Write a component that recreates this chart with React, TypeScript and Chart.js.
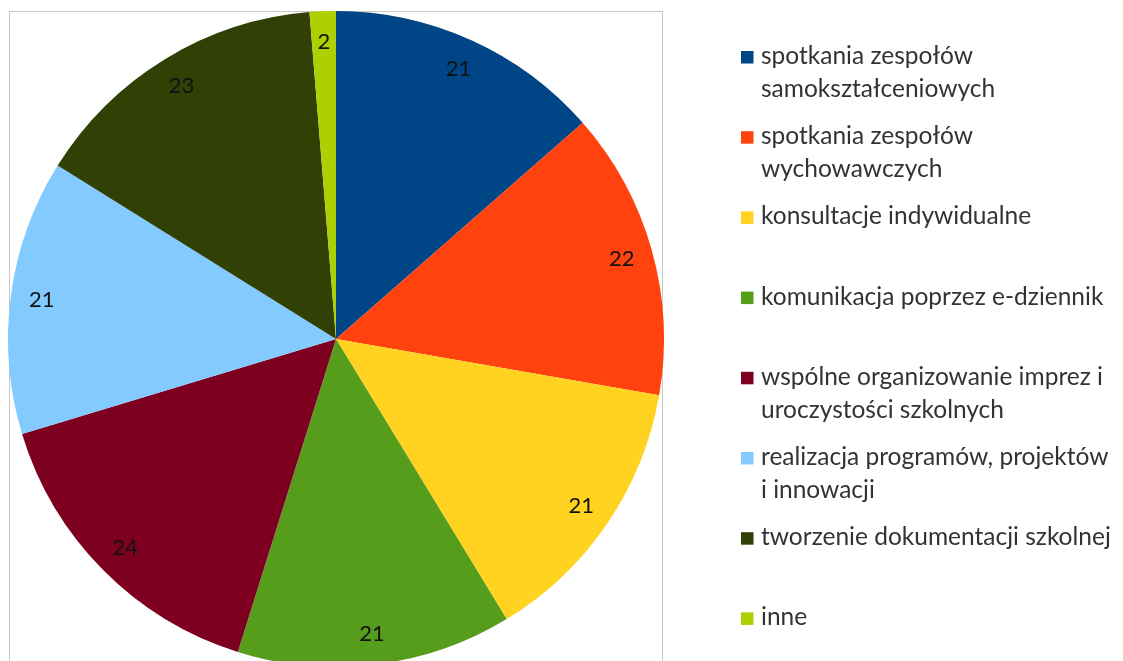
import React, { useEffect, useRef } from "react";
import { Chart, registerables } from "chart.js";

Chart.register(...registerables);

const categories: string[][] = [
  ["spotkania zespołów", "samokształceniowych"],
  ["spotkania zespołów", "wychowawczych"],
  ["konsultacje indywidualne"],
  ["komunikacja poprzez e-dziennik"],
  ["wspólne organizowanie imprez i", "uroczystości szkolnych"],
  ["realizacja programów, projektów", "i innowacji"],
  ["tworzenie dokumentacji szkolnej"],
  ["inne"],
];
const values: number[] = [21, 22, 21, 21, 24, 21, 23, 2];
const colors: string[] = [
  "#004586",
  "#FF420E",
  "#FFD320",
  "#579D1C",
  "#7E0021",
  "#83CAFF",
  "#314004",
  "#AECF00",
];

const FONT = "Lato, 'Open Sans', sans-serif";

const framePlugin = {
  id: "frame",
  beforeDraw(chart: any) {
    const ctx = chart.ctx;
    ctx.save();
    ctx.strokeStyle = "#c8c8c8";
    ctx.lineWidth = 1;
    ctx.strokeRect(9.5, 11.5, 653, 700);
    ctx.restore();
  },
};

const labelsPlugin = {
  id: "sliceLabels",
  afterDatasetsDraw(chart: any) {
    const ctx = chart.ctx;
    const meta = chart.getDatasetMeta(0);
    ctx.save();
    ctx.fillStyle = "#111";
    ctx.font = `22px ${FONT}`;
    ctx.textAlign = "center";
    ctx.textBaseline = "middle";
    meta.data.forEach((arc: any, i: number) => {
      const p = arc.getProps(["x", "y", "startAngle", "endAngle", "outerRadius"], true);
      const mid = (p.startAngle + p.endAngle) / 2;
      const r = p.outerRadius * 0.905;
      ctx.fillText(String(chart.data.datasets[0].data[i]), p.x + Math.cos(mid) * r, p.y + Math.sin(mid) * r);
    });
    ctx.restore();
  },
};

const legendPlugin = {
  id: "customLegend",
  afterDraw(chart: any) {
    const ctx = chart.ctx;
    ctx.save();
    ctx.font = `24.5px ${FONT}`;
    ctx.textBaseline = "middle";
    ctx.textAlign = "left";
    const labels: string[][] = chart.data.labels;
    const bg: string[] = chart.data.datasets[0].backgroundColor;
    labels.forEach((lines, i) => {
      const top = 51 + i * 80.2;
      ctx.fillStyle = bg[i];
      ctx.fillRect(741, top, 12.5, 12.5);
      ctx.fillStyle = "#333";
      lines.forEach((ln, j) => {
        ctx.fillText(ln, 761, top + 5 + j * 33);
      });
    });
    ctx.restore();
  },
};

export default function App() {
  const ref = useRef<HTMLCanvasElement | null>(null);
  useEffect(() => {
    document.body.style.margin = "0";
    const c = new Chart(ref.current as HTMLCanvasElement, {
      type: "pie",
      data: {
        labels: categories as any,
        datasets: [
          {
            data: values,
            backgroundColor: colors,
            borderWidth: 0,
          },
        ],
      },
      options: {
        animation: false,
        responsive: false,
        maintainAspectRatio: false,
        layout: { padding: { left: 8, top: 11, right: 459, bottom: 13 } },
        plugins: {
          legend: { display: false },
          tooltip: { enabled: false },
        },
      },
      plugins: [framePlugin, labelsPlugin, legendPlugin],
    });
    return () => c.destroy();
  }, []);
  return (
    <div style={{ position: "fixed", left: 0, top: 0, width: 1123, height: 661, overflow: "hidden", background: "#fff" }}>
      <canvas ref={ref} width={1123} height={680} style={{ width: 1123, height: 680, display: "block" }} />
    </div>
  );
}
